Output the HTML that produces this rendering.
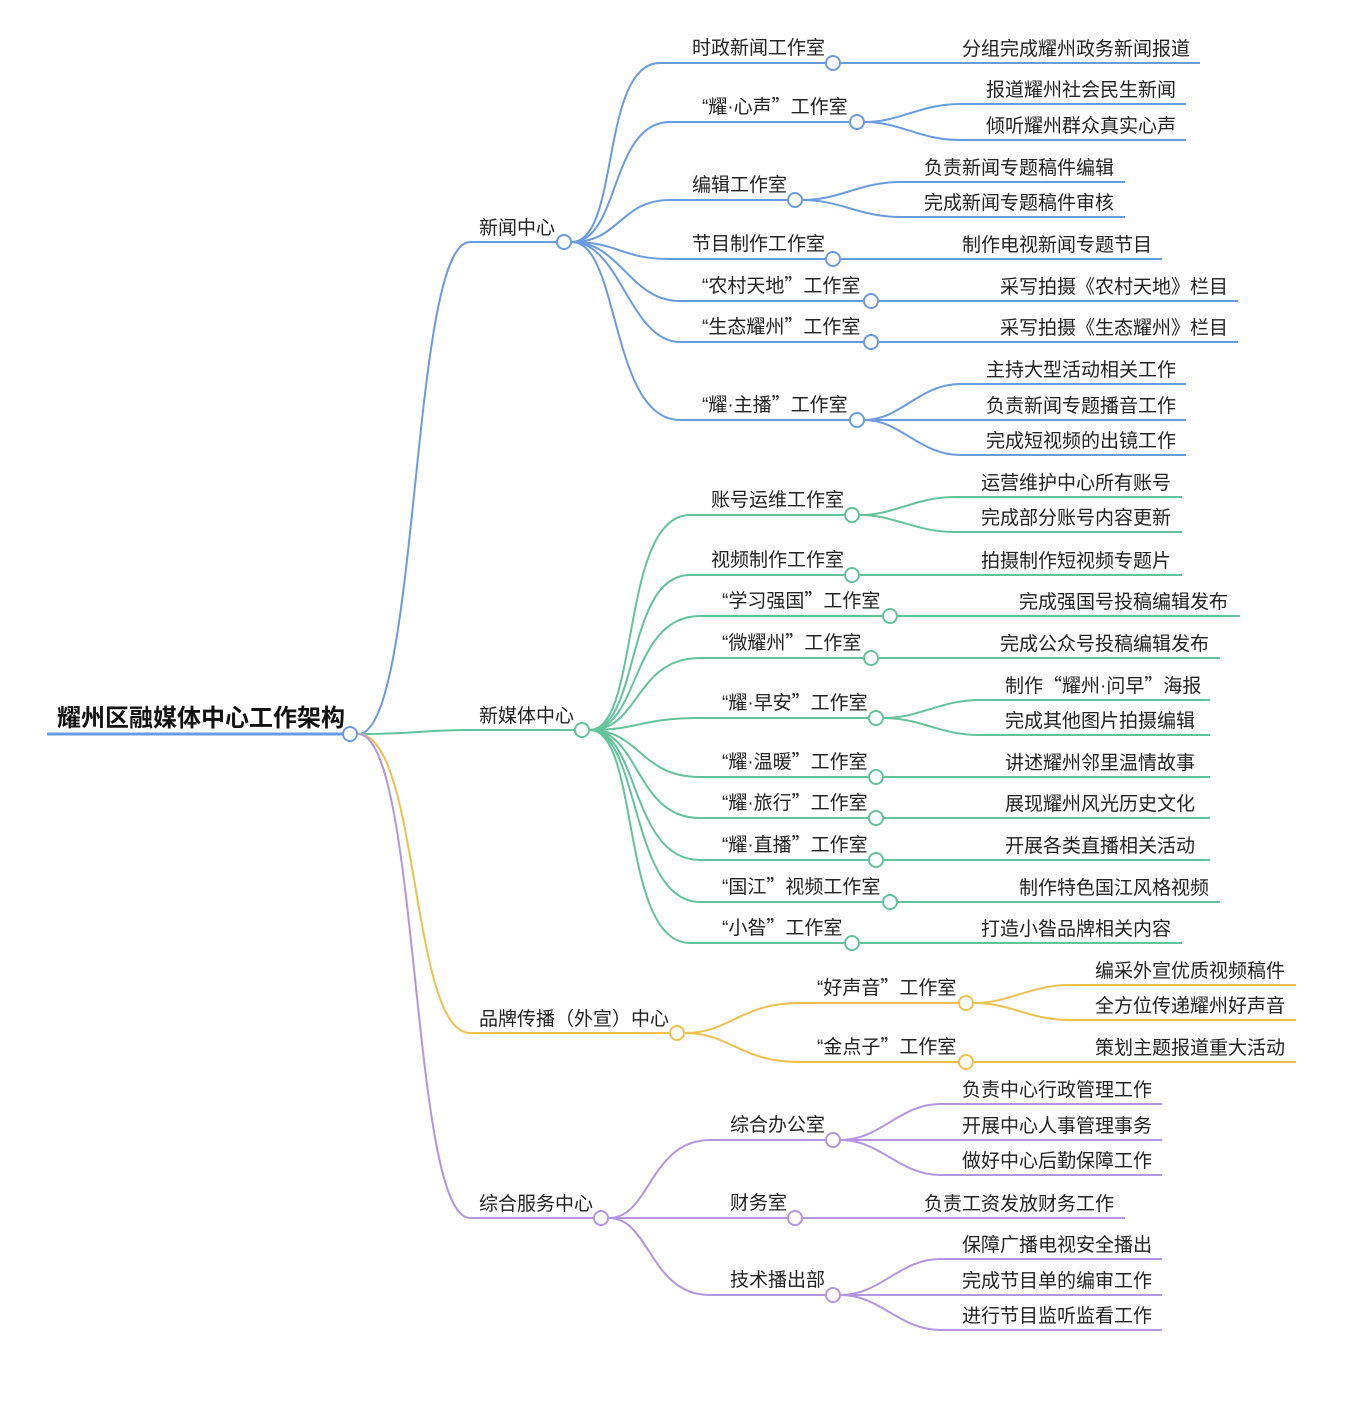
<!DOCTYPE html>
<html><head><meta charset="utf-8"><style>
html,body{margin:0;padding:0;background:#fff;}
svg text{font-family:"Noto Sans CJK SC","Liberation Sans",sans-serif;font-size:19px;fill:#222;}
.l{font-family:"Liberation Sans",sans-serif;}
.b{stroke:#6a9be0}.g{stroke:#62c39b}.y{stroke:#eec04e}.p{stroke:#b395e0}
path{fill:none;stroke-width:2}
circle{fill:#fff;stroke-width:2}
</style></head><body>
<svg width="1366" height="1416" xmlns="http://www.w3.org/2000/svg">
<path class="b" d="M47,734 L342,734" style="stroke-width:3"/>
<text x="57" y="726" style="font-size:24px;font-weight:bold;fill:#111">耀州区融媒体中心工作架构</text>
<path class="b" d="M358,734 C420,734 410,242 470,242 L556,242"/>
<path class="g" d="M358,734 C420,734 420,730 470,730 L574,730"/>
<path class="y" d="M358,734 C420,734 410,1033 470,1033 L669,1033"/>
<path class="p" d="M358,734 C420,734 410,1218 470,1218 L593,1218"/>
<text x="479" y="234">新闻中心</text>
<text x="479" y="722">新媒体中心</text>
<text x="479" y="1025">品牌传播（外宣）中心</text>
<text x="479" y="1210">综合服务中心</text>

<g class="b">
<path d="M572,242 C620,242 600,63 660,63 L825,63"/>
<path d="M572,242 C620,242 610,122 670,122 L849,122"/>
<path d="M572,242 C620,242 620,200 670,200 L787,200"/>
<path d="M572,242 C620,242 620,259 670,259 L825,259"/>
<path d="M572,242 C620,242 630,301 680,301 L863,301"/>
<path d="M572,242 C620,242 630,342 680,342 L863,342"/>
<path d="M572,242 C620,242 610,420 680,420 L849,420"/>
<path d="M841,63 L1200,63"/>
<path d="M865,122 C900,122 920,104 960,104 L1186,104"/>
<path d="M865,122 C900,122 920,140 960,140 L1186,140"/>
<path d="M803,200 C840,200 860,182 900,182 L1125,182"/>
<path d="M803,200 C840,200 860,217 900,217 L1125,217"/>
<path d="M841,259 L1162,259"/>
<path d="M879,301 L1238,301"/>
<path d="M879,342 L1238,342"/>
<path d="M865,420 C900,420 920,384 960,384 L1186,384"/>
<path d="M865,420 L1186,420"/>
<path d="M865,420 C900,420 920,455 960,455 L1186,455"/>
<circle cx="833" cy="63" r="7"/><circle cx="857" cy="122" r="7"/><circle cx="795" cy="200" r="7"/>
<circle cx="833" cy="259" r="7"/><circle cx="871" cy="301" r="7"/><circle cx="871" cy="342" r="7"/>
<circle cx="857" cy="420" r="7"/><circle cx="564" cy="242" r="7"/>
</g>
<text x="692" y="54">时政新闻工作室</text>
<text x="702" y="113"><tspan class="l">“</tspan>耀<tspan class="l">·</tspan>心声”工作室</text>
<text x="692" y="191">编辑工作室</text>
<text x="692" y="250">节目制作工作室</text>
<text x="702" y="292"><tspan class="l">“</tspan>农村天地”工作室</text>
<text x="702" y="333"><tspan class="l">“</tspan>生态耀州”工作室</text>
<text x="702" y="411"><tspan class="l">“</tspan>耀<tspan class="l">·</tspan>主播”工作室</text>
<text x="962" y="55">分组完成耀州政务新闻报道</text>
<text x="986" y="96">报道耀州社会民生新闻</text>
<text x="986" y="132">倾听耀州群众真实心声</text>
<text x="924" y="174">负责新闻专题稿件编辑</text>
<text x="924" y="209">完成新闻专题稿件审核</text>
<text x="962" y="251">制作电视新闻专题节目</text>
<text x="1000" y="293">采写拍摄《农村天地》栏目</text>
<text x="1000" y="334">采写拍摄《生态耀州》栏目</text>
<text x="986" y="376">主持大型活动相关工作</text>
<text x="986" y="412">负责新闻专题播音工作</text>
<text x="986" y="447">完成短视频的出镜工作</text>

<g class="g">
<path d="M590,730 C640,730 620,515 690,515 L844,515"/>
<path d="M590,730 C640,730 625,575 690,575 L844,575"/>
<path d="M590,730 C640,730 630,616 700,616 L882,616"/>
<path d="M590,730 C640,730 635,658 700,658 L863,658"/>
<path d="M590,730 C640,730 640,718 700,718 L868,718"/>
<path d="M590,730 C640,730 640,777 700,777 L868,777"/>
<path d="M590,730 C640,730 635,818 700,818 L868,818"/>
<path d="M590,730 C640,730 630,860 700,860 L868,860"/>
<path d="M590,730 C640,730 630,902 700,902 L882,902"/>
<path d="M590,730 C640,730 620,943 690,943 L844,943"/>
<path d="M860,515 C895,515 915,497 955,497 L1182,497"/>
<path d="M860,515 C895,515 915,532 955,532 L1182,532"/>
<path d="M860,575 L1182,575"/>
<path d="M898,616 L1240,616"/>
<path d="M879,658 L1220,658"/>
<path d="M884,718 C920,718 940,700 980,700 L1210,700"/>
<path d="M884,718 C920,718 940,735 980,735 L1210,735"/>
<path d="M884,777 L1210,777"/>
<path d="M884,818 L1210,818"/>
<path d="M884,860 L1210,860"/>
<path d="M898,902 L1220,902"/>
<path d="M860,943 L1182,943"/>
<circle cx="852" cy="515" r="7"/><circle cx="852" cy="575" r="7"/><circle cx="890" cy="616" r="7"/>
<circle cx="871" cy="658" r="7"/><circle cx="876" cy="718" r="7"/><circle cx="876" cy="777" r="7"/>
<circle cx="876" cy="818" r="7"/><circle cx="876" cy="860" r="7"/><circle cx="890" cy="902" r="7"/>
<circle cx="852" cy="943" r="7"/><circle cx="582" cy="730" r="7"/>
</g>
<text x="711" y="506">账号运维工作室</text>
<text x="711" y="566">视频制作工作室</text>
<text x="722" y="607"><tspan class="l">“</tspan>学习强国”工作室</text>
<text x="722" y="649"><tspan class="l">“</tspan>微耀州”工作室</text>
<text x="722" y="709"><tspan class="l">“</tspan>耀<tspan class="l">·</tspan>早安”工作室</text>
<text x="722" y="768"><tspan class="l">“</tspan>耀<tspan class="l">·</tspan>温暖”工作室</text>
<text x="722" y="809"><tspan class="l">“</tspan>耀<tspan class="l">·</tspan>旅行”工作室</text>
<text x="722" y="851"><tspan class="l">“</tspan>耀<tspan class="l">·</tspan>直播”工作室</text>
<text x="722" y="893"><tspan class="l">“</tspan>国江”视频工作室</text>
<text x="722" y="934"><tspan class="l">“</tspan>小昝”工作室</text>
<text x="981" y="489">运营维护中心所有账号</text>
<text x="981" y="524">完成部分账号内容更新</text>
<text x="981" y="567">拍摄制作短视频专题片</text>
<text x="1019" y="608">完成强国号投稿编辑发布</text>
<text x="1000" y="650">完成公众号投稿编辑发布</text>
<text x="1005" y="692">制作“耀州<tspan class="l">·</tspan>问早”海报</text>
<text x="1005" y="727">完成其他图片拍摄编辑</text>
<text x="1005" y="769">讲述耀州邻里温情故事</text>
<text x="1005" y="810">展现耀州风光历史文化</text>
<text x="1005" y="852">开展各类直播相关活动</text>
<text x="1019" y="894">制作特色国江风格视频</text>
<text x="981" y="935">打造小昝品牌相关内容</text>

<g class="y">
<path d="M685,1033 C730,1033 740,1003 800,1003 L958,1003"/>
<path d="M685,1033 C730,1033 740,1062 800,1062 L958,1062"/>
<path d="M974,1003 C1010,1003 1030,985 1070,985 L1296,985"/>
<path d="M974,1003 C1010,1003 1030,1020 1070,1020 L1296,1020"/>
<path d="M974,1062 L1296,1062"/>
<circle cx="966" cy="1003" r="7"/><circle cx="966" cy="1062" r="7"/><circle cx="677" cy="1033" r="7"/>
</g>
<text x="817" y="994"><tspan class="l">“</tspan>好声音”工作室</text>
<text x="817" y="1053"><tspan class="l">“</tspan>金点子”工作室</text>
<text x="1095" y="977">编采外宣优质视频稿件</text>
<text x="1095" y="1012">全方位传递耀州好声音</text>
<text x="1095" y="1054">策划主题报道重大活动</text>

<g class="p">
<path d="M609,1218 C650,1218 650,1140 710,1140 L825,1140"/>
<path d="M609,1218 L787,1218"/>
<path d="M609,1218 C650,1218 650,1295 710,1295 L825,1295"/>
<path d="M841,1140 C880,1140 900,1104 940,1104 L1162,1104"/>
<path d="M841,1140 L1162,1140"/>
<path d="M841,1140 C880,1140 900,1175 940,1175 L1162,1175"/>
<path d="M803,1218 L1125,1218"/>
<path d="M841,1295 C880,1295 900,1259 940,1259 L1162,1259"/>
<path d="M841,1295 L1162,1295"/>
<path d="M841,1295 C880,1295 900,1330 940,1330 L1162,1330"/>
<circle cx="833" cy="1140" r="7"/><circle cx="795" cy="1218" r="7"/><circle cx="833" cy="1295" r="7"/>
<circle cx="601" cy="1218" r="7"/>
</g>
<text x="730" y="1131">综合办公室</text>
<text x="730" y="1209">财务室</text>
<text x="730" y="1286">技术播出部</text>
<text x="962" y="1096">负责中心行政管理工作</text>
<text x="962" y="1132">开展中心人事管理事务</text>
<text x="962" y="1167">做好中心后勤保障工作</text>
<text x="924" y="1210">负责工资发放财务工作</text>
<text x="962" y="1251">保障广播电视安全播出</text>
<text x="962" y="1287">完成节目单的编审工作</text>
<text x="962" y="1322">进行节目监听监看工作</text>
<circle cx="350" cy="734" r="7" fill="#fff" stroke="#6a9be0" stroke-width="2"/>
</svg>
</body></html>
